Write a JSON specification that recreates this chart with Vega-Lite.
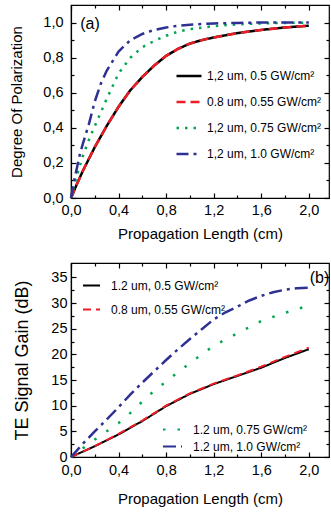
{
  "$schema": "https://vega.github.io/schema/vega-lite/v6.json",
  "padding": {"left": 9, "top": 3, "right": 0, "bottom": 0},
  "spacing": 18,
  "config": {
    "font": "Liberation Sans",
    "view": {"stroke": "black", "strokeWidth": 1.2},
    "axis": {"domainColor": "black", "domainWidth": 1.2, "tickColor": "black", "tickWidth": 1.2, "labelColor": "black", "titleColor": "black", "labelFont": "Liberation Sans", "titleFont": "Liberation Sans", "labelFontSize": 14.5, "titleFontSize": 15, "titleFontWeight": "normal", "grid": false},
    "legend": {"labelFont": "Liberation Sans", "labelFontSize": 12, "labelColor": "black", "padding": 0, "title": null}
  },
  "datasets": {
    "a": [
      {"g": 1, "s": "1,2 um, 0.5 GW/cm²", "L": 0, "V": 0},
      {"g": 1, "s": "1,2 um, 0.5 GW/cm²", "L": 0.05, "V": 0.08},
      {"g": 1, "s": "1,2 um, 0.5 GW/cm²", "L": 0.1, "V": 0.155},
      {"g": 1, "s": "1,2 um, 0.5 GW/cm²", "L": 0.2, "V": 0.29},
      {"g": 1, "s": "1,2 um, 0.5 GW/cm²", "L": 0.3, "V": 0.41},
      {"g": 1, "s": "1,2 um, 0.5 GW/cm²", "L": 0.4, "V": 0.52},
      {"g": 1, "s": "1,2 um, 0.5 GW/cm²", "L": 0.5, "V": 0.615},
      {"g": 1, "s": "1,2 um, 0.5 GW/cm²", "L": 0.6, "V": 0.69},
      {"g": 1, "s": "1,2 um, 0.5 GW/cm²", "L": 0.7, "V": 0.755},
      {"g": 1, "s": "1,2 um, 0.5 GW/cm²", "L": 0.8, "V": 0.81},
      {"g": 1, "s": "1,2 um, 0.5 GW/cm²", "L": 0.9, "V": 0.85},
      {"g": 1, "s": "1,2 um, 0.5 GW/cm²", "L": 1.0, "V": 0.88},
      {"g": 1, "s": "1,2 um, 0.5 GW/cm²", "L": 1.1, "V": 0.9},
      {"g": 1, "s": "1,2 um, 0.5 GW/cm²", "L": 1.2, "V": 0.915},
      {"g": 1, "s": "1,2 um, 0.5 GW/cm²", "L": 1.4, "V": 0.94},
      {"g": 1, "s": "1,2 um, 0.5 GW/cm²", "L": 1.6, "V": 0.958},
      {"g": 1, "s": "1,2 um, 0.5 GW/cm²", "L": 1.8, "V": 0.972},
      {"g": 1, "s": "1,2 um, 0.5 GW/cm²", "L": 2.0, "V": 0.982},
      {"g": 1, "s": "0.8 um, 0.55 GW/cm²", "L": 0, "V": 0},
      {"g": 1, "s": "0.8 um, 0.55 GW/cm²", "L": 0.05, "V": 0.08},
      {"g": 1, "s": "0.8 um, 0.55 GW/cm²", "L": 0.1, "V": 0.155},
      {"g": 1, "s": "0.8 um, 0.55 GW/cm²", "L": 0.2, "V": 0.29},
      {"g": 1, "s": "0.8 um, 0.55 GW/cm²", "L": 0.3, "V": 0.41},
      {"g": 1, "s": "0.8 um, 0.55 GW/cm²", "L": 0.4, "V": 0.52},
      {"g": 1, "s": "0.8 um, 0.55 GW/cm²", "L": 0.5, "V": 0.615},
      {"g": 1, "s": "0.8 um, 0.55 GW/cm²", "L": 0.6, "V": 0.69},
      {"g": 1, "s": "0.8 um, 0.55 GW/cm²", "L": 0.7, "V": 0.755},
      {"g": 1, "s": "0.8 um, 0.55 GW/cm²", "L": 0.8, "V": 0.81},
      {"g": 1, "s": "0.8 um, 0.55 GW/cm²", "L": 0.9, "V": 0.85},
      {"g": 1, "s": "0.8 um, 0.55 GW/cm²", "L": 1.0, "V": 0.88},
      {"g": 1, "s": "0.8 um, 0.55 GW/cm²", "L": 1.1, "V": 0.9},
      {"g": 1, "s": "0.8 um, 0.55 GW/cm²", "L": 1.2, "V": 0.915},
      {"g": 1, "s": "0.8 um, 0.55 GW/cm²", "L": 1.4, "V": 0.94},
      {"g": 1, "s": "0.8 um, 0.55 GW/cm²", "L": 1.6, "V": 0.958},
      {"g": 1, "s": "0.8 um, 0.55 GW/cm²", "L": 1.8, "V": 0.972},
      {"g": 1, "s": "0.8 um, 0.55 GW/cm²", "L": 2.0, "V": 0.982},
      {"g": 2, "s": "1,2 um, 0.75 GW/cm²", "L": 0, "V": 0},
      {"g": 2, "s": "1,2 um, 0.75 GW/cm²", "L": 0.05, "V": 0.13},
      {"g": 2, "s": "1,2 um, 0.75 GW/cm²", "L": 0.1, "V": 0.24},
      {"g": 2, "s": "1,2 um, 0.75 GW/cm²", "L": 0.15, "V": 0.33},
      {"g": 2, "s": "1,2 um, 0.75 GW/cm²", "L": 0.2, "V": 0.41},
      {"g": 2, "s": "1,2 um, 0.75 GW/cm²", "L": 0.3, "V": 0.565},
      {"g": 2, "s": "1,2 um, 0.75 GW/cm²", "L": 0.4, "V": 0.71},
      {"g": 2, "s": "1,2 um, 0.75 GW/cm²", "L": 0.5, "V": 0.8},
      {"g": 2, "s": "1,2 um, 0.75 GW/cm²", "L": 0.6, "V": 0.86},
      {"g": 2, "s": "1,2 um, 0.75 GW/cm²", "L": 0.7, "V": 0.895},
      {"g": 2, "s": "1,2 um, 0.75 GW/cm²", "L": 0.8, "V": 0.925},
      {"g": 2, "s": "1,2 um, 0.75 GW/cm²", "L": 0.9, "V": 0.948},
      {"g": 2, "s": "1,2 um, 0.75 GW/cm²", "L": 1.0, "V": 0.962},
      {"g": 2, "s": "1,2 um, 0.75 GW/cm²", "L": 1.2, "V": 0.98},
      {"g": 2, "s": "1,2 um, 0.75 GW/cm²", "L": 1.4, "V": 0.99},
      {"g": 2, "s": "1,2 um, 0.75 GW/cm²", "L": 1.6, "V": 0.995},
      {"g": 2, "s": "1,2 um, 0.75 GW/cm²", "L": 1.8, "V": 0.998},
      {"g": 2, "s": "1,2 um, 0.75 GW/cm²", "L": 2.0, "V": 1.0},
      {"g": 2, "s": "1,2 um, 1.0 GW/cm²", "L": 0, "V": 0},
      {"g": 2, "s": "1,2 um, 1.0 GW/cm²", "L": 0.03, "V": 0.11},
      {"g": 2, "s": "1,2 um, 1.0 GW/cm²", "L": 0.075, "V": 0.25},
      {"g": 2, "s": "1,2 um, 1.0 GW/cm²", "L": 0.1, "V": 0.31},
      {"g": 2, "s": "1,2 um, 1.0 GW/cm²", "L": 0.15, "V": 0.42},
      {"g": 2, "s": "1,2 um, 1.0 GW/cm²", "L": 0.2, "V": 0.55},
      {"g": 2, "s": "1,2 um, 1.0 GW/cm²", "L": 0.25, "V": 0.65},
      {"g": 2, "s": "1,2 um, 1.0 GW/cm²", "L": 0.3, "V": 0.725},
      {"g": 2, "s": "1,2 um, 1.0 GW/cm²", "L": 0.4, "V": 0.835},
      {"g": 2, "s": "1,2 um, 1.0 GW/cm²", "L": 0.5, "V": 0.9},
      {"g": 2, "s": "1,2 um, 1.0 GW/cm²", "L": 0.6, "V": 0.935},
      {"g": 2, "s": "1,2 um, 1.0 GW/cm²", "L": 0.7, "V": 0.958},
      {"g": 2, "s": "1,2 um, 1.0 GW/cm²", "L": 0.8, "V": 0.972},
      {"g": 2, "s": "1,2 um, 1.0 GW/cm²", "L": 0.9, "V": 0.982},
      {"g": 2, "s": "1,2 um, 1.0 GW/cm²", "L": 1.0, "V": 0.988},
      {"g": 2, "s": "1,2 um, 1.0 GW/cm²", "L": 1.2, "V": 0.995},
      {"g": 2, "s": "1,2 um, 1.0 GW/cm²", "L": 1.4, "V": 0.998},
      {"g": 2, "s": "1,2 um, 1.0 GW/cm²", "L": 1.6, "V": 1.0},
      {"g": 2, "s": "1,2 um, 1.0 GW/cm²", "L": 2.0, "V": 1.0}
    ],
    "b": [
      {"g": 1, "s": "1.2 um, 0.5 GW/cm²", "L": 0, "V": 0},
      {"g": 1, "s": "1.2 um, 0.5 GW/cm²", "L": 0.2, "V": 2.1},
      {"g": 1, "s": "1.2 um, 0.5 GW/cm²", "L": 0.4, "V": 4.4},
      {"g": 1, "s": "1.2 um, 0.5 GW/cm²", "L": 0.6, "V": 7.0},
      {"g": 1, "s": "1.2 um, 0.5 GW/cm²", "L": 0.8, "V": 9.9},
      {"g": 1, "s": "1.2 um, 0.5 GW/cm²", "L": 1.0, "V": 12.3},
      {"g": 1, "s": "1.2 um, 0.5 GW/cm²", "L": 1.2, "V": 14.2},
      {"g": 1, "s": "1.2 um, 0.5 GW/cm²", "L": 1.4, "V": 15.8},
      {"g": 1, "s": "1.2 um, 0.5 GW/cm²", "L": 1.6, "V": 17.4},
      {"g": 1, "s": "1.2 um, 0.5 GW/cm²", "L": 1.8, "V": 19.3},
      {"g": 1, "s": "1.2 um, 0.5 GW/cm²", "L": 2.0, "V": 21.0},
      {"g": 1, "s": "0.8 um, 0.55 GW/cm²", "L": 0, "V": 0},
      {"g": 1, "s": "0.8 um, 0.55 GW/cm²", "L": 0.2, "V": 2.1},
      {"g": 1, "s": "0.8 um, 0.55 GW/cm²", "L": 0.4, "V": 4.5},
      {"g": 1, "s": "0.8 um, 0.55 GW/cm²", "L": 0.6, "V": 7.1},
      {"g": 1, "s": "0.8 um, 0.55 GW/cm²", "L": 0.8, "V": 10.0},
      {"g": 1, "s": "0.8 um, 0.55 GW/cm²", "L": 1.0, "V": 12.4},
      {"g": 1, "s": "0.8 um, 0.55 GW/cm²", "L": 1.2, "V": 14.3},
      {"g": 1, "s": "0.8 um, 0.55 GW/cm²", "L": 1.4, "V": 15.9},
      {"g": 1, "s": "0.8 um, 0.55 GW/cm²", "L": 1.6, "V": 17.6},
      {"g": 1, "s": "0.8 um, 0.55 GW/cm²", "L": 1.8, "V": 19.5},
      {"g": 1, "s": "0.8 um, 0.55 GW/cm²", "L": 2.0, "V": 21.3},
      {"g": 2, "s": "1.2 um, 0.75 GW/cm²", "L": 0, "V": 0},
      {"g": 2, "s": "1.2 um, 0.75 GW/cm²", "L": 0.1, "V": 1.7},
      {"g": 2, "s": "1.2 um, 0.75 GW/cm²", "L": 0.2, "V": 3.4},
      {"g": 2, "s": "1.2 um, 0.75 GW/cm²", "L": 0.3, "V": 5.0},
      {"g": 2, "s": "1.2 um, 0.75 GW/cm²", "L": 0.4, "V": 6.6},
      {"g": 2, "s": "1.2 um, 0.75 GW/cm²", "L": 0.5, "V": 8.6},
      {"g": 2, "s": "1.2 um, 0.75 GW/cm²", "L": 0.6, "V": 10.8},
      {"g": 2, "s": "1.2 um, 0.75 GW/cm²", "L": 0.7, "V": 12.9},
      {"g": 2, "s": "1.2 um, 0.75 GW/cm²", "L": 0.8, "V": 14.7},
      {"g": 2, "s": "1.2 um, 0.75 GW/cm²", "L": 0.9, "V": 16.5},
      {"g": 2, "s": "1.2 um, 0.75 GW/cm²", "L": 1.0, "V": 18.3},
      {"g": 2, "s": "1.2 um, 0.75 GW/cm²", "L": 1.1, "V": 20.0},
      {"g": 2, "s": "1.2 um, 0.75 GW/cm²", "L": 1.2, "V": 21.7},
      {"g": 2, "s": "1.2 um, 0.75 GW/cm²", "L": 1.4, "V": 24.1},
      {"g": 2, "s": "1.2 um, 0.75 GW/cm²", "L": 1.6, "V": 26.5},
      {"g": 2, "s": "1.2 um, 0.75 GW/cm²", "L": 1.8, "V": 28.1},
      {"g": 2, "s": "1.2 um, 0.75 GW/cm²", "L": 1.97, "V": 29.3},
      {"g": 2, "s": "1.2 um, 1.0 GW/cm²", "L": 0, "V": 0},
      {"g": 2, "s": "1.2 um, 1.0 GW/cm²", "L": 0.1, "V": 2.6},
      {"g": 2, "s": "1.2 um, 1.0 GW/cm²", "L": 0.2, "V": 5.0},
      {"g": 2, "s": "1.2 um, 1.0 GW/cm²", "L": 0.3, "V": 7.3},
      {"g": 2, "s": "1.2 um, 1.0 GW/cm²", "L": 0.4, "V": 9.7},
      {"g": 2, "s": "1.2 um, 1.0 GW/cm²", "L": 0.5, "V": 12.2},
      {"g": 2, "s": "1.2 um, 1.0 GW/cm²", "L": 0.6, "V": 14.5},
      {"g": 2, "s": "1.2 um, 1.0 GW/cm²", "L": 0.7, "V": 16.7},
      {"g": 2, "s": "1.2 um, 1.0 GW/cm²", "L": 0.8, "V": 18.9},
      {"g": 2, "s": "1.2 um, 1.0 GW/cm²", "L": 0.9, "V": 21.0},
      {"g": 2, "s": "1.2 um, 1.0 GW/cm²", "L": 1.0, "V": 23.0},
      {"g": 2, "s": "1.2 um, 1.0 GW/cm²", "L": 1.1, "V": 24.9},
      {"g": 2, "s": "1.2 um, 1.0 GW/cm²", "L": 1.2, "V": 26.8},
      {"g": 2, "s": "1.2 um, 1.0 GW/cm²", "L": 1.3, "V": 28.2},
      {"g": 2, "s": "1.2 um, 1.0 GW/cm²", "L": 1.4, "V": 29.3},
      {"g": 2, "s": "1.2 um, 1.0 GW/cm²", "L": 1.5, "V": 30.5},
      {"g": 2, "s": "1.2 um, 1.0 GW/cm²", "L": 1.6, "V": 31.4},
      {"g": 2, "s": "1.2 um, 1.0 GW/cm²", "L": 1.7, "V": 32.1},
      {"g": 2, "s": "1.2 um, 1.0 GW/cm²", "L": 1.8, "V": 32.6},
      {"g": 2, "s": "1.2 um, 1.0 GW/cm²", "L": 1.9, "V": 32.9},
      {"g": 2, "s": "1.2 um, 1.0 GW/cm²", "L": 2.0, "V": 33.0}
    ]
  },
  "vconcat": [
    {
      "width": 258,
      "height": 193,
      "layer": [
        {
          "data": {"name": "a"},
          "transform": [{"filter": "datum.g == 1"}],
          "mark": {"type": "line", "strokeWidth": 2.5},
          "encoding": {
            "x": {"field": "L", "type": "quantitative", "scale": {"domain": [0, 2.17], "nice": false, "zero": false},
              "axis": {"orient": "bottom", "title": "Propagation Length (cm)", "values": [0, 0.2, 0.4, 0.6, 0.8, 1.0, 1.2, 1.4, 1.6, 1.8, 2.0],
                "labelExpr": "abs(round(datum.value*10)%4)==0 ? replace(format(datum.value,'.1f'),'.',',') : ''",
                "tickSize": {"condition": {"test": "abs(round(datum.value*10)%4)==0", "value": -5}, "value": -3},
                "labelPadding": 10, "titlePadding": 10, "labelFlush": false}},
            "y": {"field": "V", "type": "quantitative", "scale": {"domain": [0, 1.1], "nice": false},
              "axis": {"orient": "left", "title": "Degree Of Polarization", "values": [0, 0.1, 0.2, 0.3, 0.4, 0.5, 0.6, 0.7, 0.8, 0.9, 1.0],
                "labelExpr": "abs(round(datum.value*10)%2)==0 ? replace(format(datum.value,'.1f'),'.',',') : ''",
                "tickSize": {"condition": {"test": "abs(round(datum.value*10)%2)==0", "value": -5}, "value": -3},
                "labelPadding": 13, "titlePadding": 18, "labelFlush": false}},
            "color": {"field": "s", "type": "nominal",
              "scale": {"domain": ["1,2 um, 0.5 GW/cm²", "0.8 um, 0.55 GW/cm²", "1,2 um, 0.75 GW/cm²", "1,2 um, 1.0 GW/cm²"], "range": ["#000000", "#ee1c25", "#00a651", "#2e3192"]},
              "legend": {"orient": "none", "legendX": 104, "legendY": 57, "symbolType": "stroke", "symbolSize": 625, "symbolStrokeWidth": 2.5, "labelOffset": 4, "rowPadding": 6}},
            "strokeDash": {"field": "s", "type": "nominal",
              "scale": {"domain": ["1,2 um, 0.5 GW/cm²", "0.8 um, 0.55 GW/cm²", "1,2 um, 0.75 GW/cm²", "1,2 um, 1.0 GW/cm²"], "range": [[1, 0], [9, 5], [2.5, 6], [12, 5, 3, 5]]},
              "legend": {"orient": "none", "legendX": 104, "legendY": 57, "symbolType": "stroke", "symbolSize": 625, "symbolStrokeWidth": 2.5, "labelOffset": 4, "rowPadding": 6}}
          }
        },
        {
          "data": {"name": "a"},
          "transform": [{"filter": "datum.g == 2"}],
          "mark": {"type": "line", "strokeWidth": 2.5},
          "encoding": {
            "x": {"field": "L", "type": "quantitative", "scale": {"domain": [0, 2.17], "nice": false, "zero": false},
              "axis": {"orient": "top", "title": null, "labels": false, "domain": false, "values": [0, 0.2, 0.4, 0.6, 0.8, 1.0, 1.2, 1.4, 1.6, 1.8, 2.0],
                "tickSize": {"condition": {"test": "abs(round(datum.value*10)%4)==0", "value": -5}, "value": -3}}},
            "y": {"field": "V", "type": "quantitative", "scale": {"domain": [0, 1.1], "nice": false},
              "axis": {"orient": "right", "title": null, "labels": false, "domain": false, "values": [0, 0.1, 0.2, 0.3, 0.4, 0.5, 0.6, 0.7, 0.8, 0.9, 1.0],
                "tickSize": {"condition": {"test": "abs(round(datum.value*10)%2)==0", "value": -5}, "value": -3}}},
            "color": {"field": "s", "type": "nominal",
              "scale": {"domain": ["1,2 um, 0.5 GW/cm²", "0.8 um, 0.55 GW/cm²", "1,2 um, 0.75 GW/cm²", "1,2 um, 1.0 GW/cm²"], "range": ["#000000", "#ee1c25", "#00a651", "#2e3192"]},
              "legend": {"orient": "none", "legendX": 104, "legendY": 57, "symbolType": "stroke", "symbolSize": 625, "symbolStrokeWidth": 2.5, "labelOffset": 4, "rowPadding": 6}},
            "strokeDash": {"field": "s", "type": "nominal",
              "scale": {"domain": ["1,2 um, 0.5 GW/cm²", "0.8 um, 0.55 GW/cm²", "1,2 um, 0.75 GW/cm²", "1,2 um, 1.0 GW/cm²"], "range": [[1, 0], [9, 5], [2.5, 6], [12, 5, 3, 5]]},
              "legend": {"orient": "none", "legendX": 104, "legendY": 57, "symbolType": "stroke", "symbolSize": 625, "symbolStrokeWidth": 2.5, "labelOffset": 4, "rowPadding": 6}}
          }
        },
        {
          "data": {"values": [{"t": "(a)"}]},
          "mark": {"type": "text", "fontSize": 16, "font": "Liberation Sans", "color": "black"},
          "encoding": {
            "x": {"datum": 0.16, "type": "quantitative", "axis": null},
            "y": {"datum": 0.99, "type": "quantitative", "axis": null},
            "text": {"field": "t"}
          }
        }
      ],
      "resolve": {"axis": {"x": "independent", "y": "independent"}}
    },
    {
      "width": 258,
      "height": 194,
      "layer": [
        {
          "data": {"name": "b"},
          "transform": [{"filter": "datum.g == 1"}],
          "mark": {"type": "line", "strokeWidth": 2},
          "encoding": {
            "x": {"field": "L", "type": "quantitative", "scale": {"domain": [0, 2.17], "nice": false, "zero": false},
              "axis": {"orient": "bottom", "title": "Propagation Length (cm)", "values": [0, 0.2, 0.4, 0.6, 0.8, 1.0, 1.2, 1.4, 1.6, 1.8, 2.0],
                "labelExpr": "abs(round(datum.value*10)%4)==0 ? replace(format(datum.value,'.1f'),'.',',') : ''",
                "tickSize": {"condition": {"test": "abs(round(datum.value*10)%4)==0", "value": -5}, "value": -3},
                "labelPadding": 11, "titlePadding": 15, "labelFlush": false}},
            "y": {"field": "V", "type": "quantitative", "scale": {"domain": [0, 37.8], "nice": false},
              "axis": {"orient": "left", "title": "TE Signal Gain (dB)", "titleFontSize": 18, "values": [0, 2.5, 5, 7.5, 10, 12.5, 15, 17.5, 20, 22.5, 25, 27.5, 30, 32.5, 35],
                "labelExpr": "datum.value % 5 == 0 ? format(datum.value,'d') : ''",
                "tickSize": {"condition": {"test": "datum.value % 5 == 0", "value": -5}, "value": -3},
                "labelPadding": 9, "titlePadding": 19, "labelFlush": false}},
            "color": {"field": "s", "type": "nominal",
              "scale": {"domain": ["1.2 um, 0.5 GW/cm²", "0.8 um, 0.55 GW/cm²"], "range": ["#000000", "#ee1c25"]},
              "legend": {"orient": "none", "legendX": 11, "legendY": 13, "symbolType": "stroke", "symbolSize": 289, "symbolStrokeWidth": 2, "labelOffset": 10, "rowPadding": 8}},
            "strokeDash": {"field": "s", "type": "nominal",
              "scale": {"domain": ["1.2 um, 0.5 GW/cm²", "0.8 um, 0.55 GW/cm²"], "range": [[1, 0], [8, 5]]},
              "legend": {"orient": "none", "legendX": 11, "legendY": 13, "symbolType": "stroke", "symbolSize": 289, "symbolStrokeWidth": 2, "labelOffset": 10, "rowPadding": 8}}
          }
        },
        {
          "data": {"name": "b"},
          "transform": [{"filter": "datum.g == 2"}],
          "mark": {"type": "line", "strokeWidth": 2.5},
          "encoding": {
            "x": {"field": "L", "type": "quantitative", "scale": {"domain": [0, 2.17], "nice": false, "zero": false},
              "axis": {"orient": "top", "title": null, "labels": false, "domain": false, "values": [0, 0.2, 0.4, 0.6, 0.8, 1.0, 1.2, 1.4, 1.6, 1.8, 2.0],
                "tickSize": {"condition": {"test": "abs(round(datum.value*10)%4)==0", "value": -5}, "value": -3}}},
            "y": {"field": "V", "type": "quantitative", "scale": {"domain": [0, 37.8], "nice": false},
              "axis": {"orient": "right", "title": null, "labels": false, "domain": false, "values": [0, 2.5, 5, 7.5, 10, 12.5, 15, 17.5, 20, 22.5, 25, 27.5, 30, 32.5, 35],
                "tickSize": {"condition": {"test": "datum.value % 5 == 0", "value": -5}, "value": -3}}},
            "color": {"field": "s", "type": "nominal",
              "scale": {"domain": ["1.2 um, 0.75 GW/cm²", "1.2 um, 1.0 GW/cm²"], "range": ["#00a651", "#2e3192"]},
              "legend": {"orient": "none", "legendX": 91, "legendY": 156, "symbolType": "stroke", "symbolSize": 361, "symbolStrokeWidth": 2, "labelOffset": 10, "rowPadding": -2}},
            "strokeDash": {"field": "s", "type": "nominal",
              "scale": {"domain": ["1.2 um, 0.75 GW/cm²", "1.2 um, 1.0 GW/cm²"], "range": [[2.5, 12], [13, 5, 3, 5]]},
              "legend": {"orient": "none", "legendX": 91, "legendY": 156, "symbolType": "stroke", "symbolSize": 361, "symbolStrokeWidth": 2, "labelOffset": 10, "rowPadding": -2}}
          }
        },
        {
          "data": {"values": [{"t": "(b)"}]},
          "mark": {"type": "text", "fontSize": 16, "font": "Liberation Sans", "color": "black"},
          "encoding": {
            "x": {"datum": 2.09, "type": "quantitative", "axis": null},
            "y": {"datum": 34.9, "type": "quantitative", "axis": null},
            "text": {"field": "t"}
          }
        }
      ],
      "resolve": {"axis": {"x": "independent", "y": "independent"}, "scale": {"color": "independent", "strokeDash": "independent"}}
    }
  ]
}
